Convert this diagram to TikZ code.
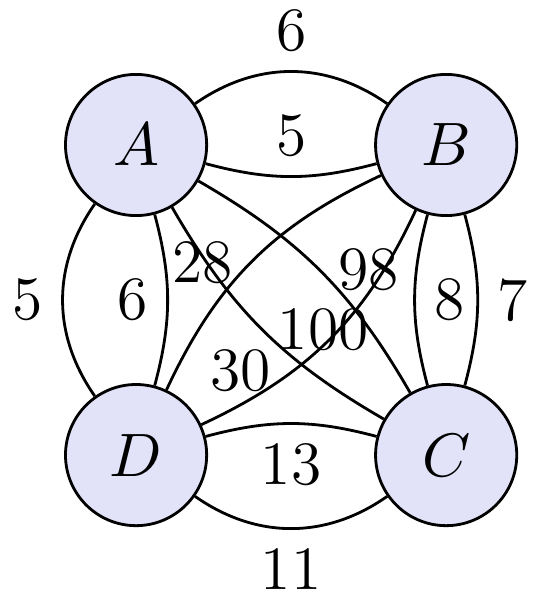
\documentclass[tikz,border=0pt]{standalone}

\definecolor{cityfill}{RGB}{226,226,249}

\begin{document}
\begin{tikzpicture}[line width=0.5pt, font=\fontsize{11}{13}\selectfont,
    city/.style={circle, draw, fill=cityfill, minimum size=0.886cm, inner sep=0pt}]
  \useasboundingbox (-0.854,0.910) rectangle (2.598,-2.912);
  \node[city] (A) at (0,0) {$A$};
  \node[city] (B) at (1.946,0) {$B$};
  \node[city] (C) at (1.946,-1.946) {$C$};
  \node[city] (D) at (0,-1.946) {$D$};
  % lados del cuadrado, dos aristas cada uno
  \draw (A) to[bend left=35] node[auto] (ab1) {6} (B);
  \draw (A) to[bend right=15] node[auto] (ab2) {5} (B);
  \draw (B) to[bend left=15] node[auto] (bc1) {7} (C);
  \draw (B) to[bend right=15] node[auto] (bc2) {8} (C);
  \draw (C) to[bend left=35] node[auto] (cd1) {11} (D);
  \draw (C) to[bend right=15] node[auto] (cd2) {13} (D);
  \draw (D) to[bend left=35] node[auto] (da1) {5} (A);
  \draw (D) to[bend right=15] node[auto] (da2) {6} (A);
  % diagonales
  \draw (A) to[bend right=15] (C);
  \draw (A) to[bend left=15] (C);
  \draw (B) to[bend right=20] (D);
  \draw (B) to[bend left=20] (D);
  \node (ac1) at (0.417,-0.741) {28};
  \node (bd1) at (1.458,-0.785) {98};
  \node (bd2) at (1.174,-1.161) {100};
  \node (bd3) at (0.658,-1.417) {30};
\end{tikzpicture}
\end{document}
